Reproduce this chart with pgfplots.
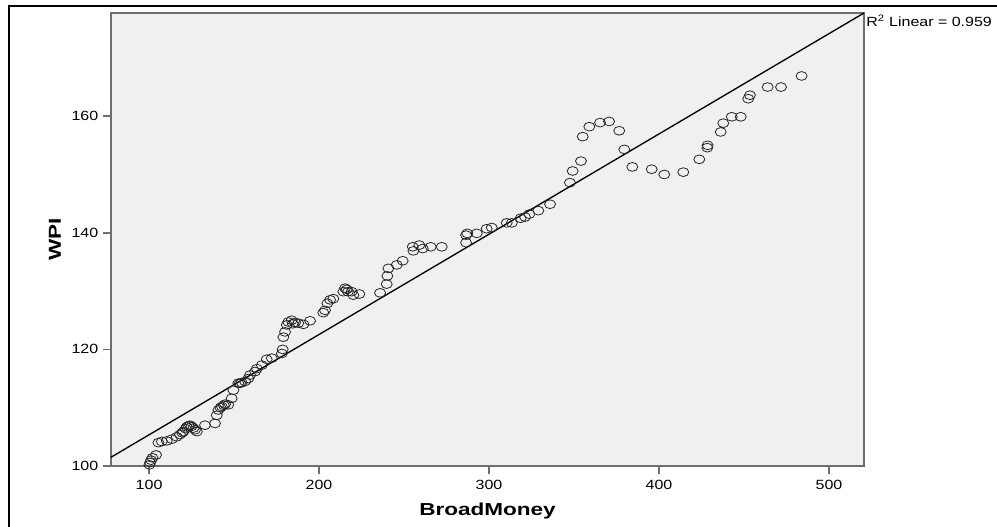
\documentclass[border=0pt]{standalone}
\usepackage{pgfplots}
\pgfplotsset{compat=1.18}
\usepackage{fontspec}
\setmainfont{Liberation Sans}[FakeStretch=1.2]
\newfontfamily\labfont{Liberation Sans}[FakeStretch=1.3]
\definecolor{bggray}{HTML}{F0F0F0}
\definecolor{framegray}{HTML}{6E6E6E}

\begin{document}
\begin{tikzpicture}
  \begin{axis}[
      at={(83.25pt,45.75pt)}, anchor=south west,
      scale only axis,
      width=564.75pt, height=339.75pt,
      xmin=77.6, xmax=520.6,
      ymin=100, ymax=177.7,
      xtick={100,200,300,400,500},
      ytick={100,120,140,160},
      xtick pos=bottom, ytick pos=left,
      tick align=outside,
      major tick length=6pt,
      tick style={framegray, line width=1.2pt},
      axis line style={framegray, line width=1.5pt},
      axis background/.style={fill=bggray},
      /pgf/number format/assume math mode=true,
      /pgf/number format/1000 sep={},
      tick label style={font=\fontsize{10}{12}\selectfont},
      xticklabel style={yshift=-1pt},
      xlabel={\labfont\bfseries BroadMoney},
      ylabel={\labfont\bfseries WPI},
      every axis x label/.style={at={(axis description cs:0.5,0)}, anchor=center, yshift=-34pt, font=\fontsize{13}{15}\selectfont},
      every axis y label/.style={at={(axis description cs:0,0.5)}, anchor=center, xshift=-42pt, rotate=90, font=\fontsize{13}{15}\selectfont},
      clip=false,
    ]
    % observations
    \addplot[only marks, mark=o, mark size=3.3pt, mark options={xscale=1.25, line width=0.6pt, draw=black!85}]
      coordinates {
        (100.2,100.2) (100.6,100.6) (101.2,101.0) (102.0,101.4) (104.1,101.9)
        (105.5,104.0) (107.5,104.2) (110.4,104.3) (113.4,104.6) (116.3,105.0)
        (118.2,105.4) (119.5,105.7) (120.2,105.9) (121.5,106.4) (122.2,106.7)
        (123.2,106.9) (124.1,107.0) (125.0,106.8) (126.1,106.5) (127.0,106.2)
        (128.1,105.9) (132.9,107.0) (138.8,107.3) (139.8,108.7) (140.8,109.6)
        (142.0,110.0) (142.8,110.2) (144.0,110.4) (144.7,110.6) (146.6,110.5)
        (148.6,111.6) (149.6,113.0) (152.5,114.2) (153.5,114.2) (154.5,114.3)
        (156.5,114.5) (158.4,115.0) (159.4,115.6) (162.4,116.2) (163.4,116.7)
        (166.3,117.3) (169.2,118.3) (172.2,118.5) (178.1,119.3) (178.6,120.0)
        (179.0,122.1) (180.0,123.0) (181.0,124.2) (181.9,124.7) (183.9,125.0)
        (184.5,124.4) (185.9,124.6) (187.8,124.5) (190.8,124.3) (194.7,124.9)
        (202.5,126.3) (203.5,126.7) (204.9,127.9) (206.5,128.5) (208.4,128.7)
        (214.3,129.9) (215.3,130.5) (216.3,130.3) (217.0,129.9) (219.2,129.9)
        (220.2,129.3) (223.7,129.5) (235.9,129.7) (239.8,131.2) (240.2,132.6)
        (240.8,133.9) (245.7,134.5) (249.2,135.2) (255.1,137.6) (255.5,136.9)
        (259.0,137.9) (261.0,137.3) (265.7,137.6) (272.2,137.6) (286.5,138.3)
        (286.5,139.6) (287.2,139.9) (292.8,139.9) (298.6,140.7) (301.6,140.9)
        (310.4,141.7) (313.4,141.7) (318.6,142.5) (321.2,142.7) (323.7,143.2)
        (329.0,143.8) (335.9,144.9) (347.6,148.6) (349.2,150.6) (354.1,152.3)
        (355.1,156.5) (359.0,158.2) (365.3,158.9) (370.6,159.1) (376.6,157.5)
        (379.6,154.3) (384.3,151.3) (395.7,150.9) (403.1,150.0) (414.3,150.4)
        (423.7,152.6) (428.4,154.6) (428.6,155.0) (436.3,157.3) (437.8,158.8)
        (442.8,159.9) (448.1,159.9) (452.5,163.0) (453.5,163.6) (463.9,165.0)
        (471.8,165.0) (483.9,166.9)
      };
    % linear fit
    \addplot[black, line width=1pt] coordinates {(77.6,101.5) (520.6,177.7)};
    \node[anchor=west, inner sep=0pt, xshift=1.5pt, yshift=-6pt, font=\fontsize{10}{12}\selectfont]
      at (rel axis cs:1,1) {R\textsuperscript{2} Linear = 0.959};
  \end{axis}
  % outer frame
  \draw[line width=1.5pt] (6.75pt,-5pt) -- (6.75pt,390.75pt) -- (760pt,390.75pt);
  \pgfresetboundingbox
  \useasboundingbox (0,0) rectangle (747.75pt,395.25pt);
\end{tikzpicture}
\end{document}
